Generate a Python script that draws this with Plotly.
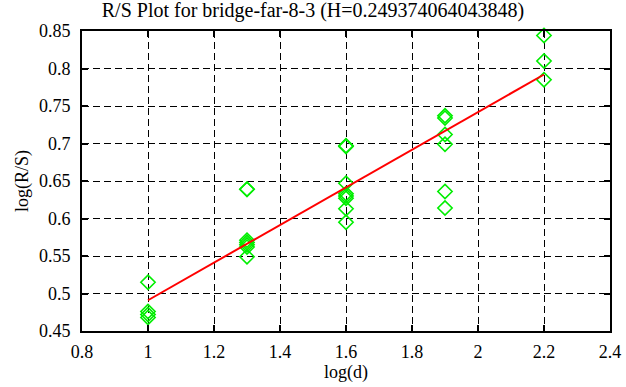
import plotly.graph_objects as go

x_d1 = [1, 1, 1, 1]
y_d1 = [0.515, 0.476, 0.472, 0.468]
x_d2 = [1.3, 1.3, 1.3, 1.3, 1.3, 1.3, 1.3]
y_d2 = [0.639, 0.639, 0.571, 0.568, 0.565, 0.562, 0.549]
x_d3 = [1.6, 1.6, 1.6, 1.6, 1.6, 1.6, 1.6, 1.6]
y_d3 = [0.697, 0.696, 0.647, 0.633, 0.630, 0.627, 0.613, 0.595]
x_d4 = [1.9, 1.9, 1.9, 1.9, 1.9, 1.9]
y_d4 = [0.737, 0.734, 0.712, 0.699, 0.636, 0.614]
x_d5 = [2.2, 2.2, 2.2]
y_d5 = [0.844, 0.810, 0.785]

fit_x = [1.0, 2.2]
fit_y = [0.491, 0.792]

x_ticks = [0.8, 1, 1.2, 1.4, 1.6, 1.8, 2, 2.2, 2.4]
x_tick_labels = ["0.8", "1", "1.2", "1.4", "1.6", "1.8", "2", "2.2", "2.4"]
y_ticks = [0.45, 0.5, 0.55, 0.6, 0.65, 0.7, 0.75, 0.8, 0.85]
y_tick_labels = ["0.45", "0.5", "0.55", "0.6", "0.65", "0.7", "0.75", "0.8", "0.85"]

title = "R/S Plot for bridge-far-8-3 (H=0.249374064043848)"

xs = x_d1 + x_d2 + x_d3 + x_d4 + x_d5
ys = y_d1 + y_d2 + y_d3 + y_d4 + y_d5

font = "Liberation Serif"
fig = go.Figure()
fig.add_trace(go.Scatter(
    x=xs, y=ys, mode="markers",
    marker=dict(symbol="diamond-open", size=11, color="#00ee00",
                line=dict(width=1.6, color="#00ee00")),
    showlegend=False, hoverinfo="skip", cliponaxis=False))
fig.add_trace(go.Scatter(
    x=fit_x, y=fit_y, mode="lines",
    line=dict(color="#ff0000", width=2), showlegend=False, hoverinfo="skip"))

axis_common = dict(
    showline=True, linecolor="black", linewidth=2, mirror="ticks",
    ticks="inside", ticklen=6, tickwidth=1.5, tickcolor="black",
    showgrid=True, gridcolor="black", gridwidth=1, griddash="7px,4px",
    zeroline=False, tickfont=dict(family=font, size=18, color="black"),
    automargin=False,
)
fig.update_xaxes(range=[0.8, 2.4], tickvals=x_ticks, ticktext=x_tick_labels,
                 ticklabelstandoff=3,
                 title=dict(text="log(d)", font=dict(family=font, size=18, color="black"), standoff=1),
                 **axis_common)
fig.update_yaxes(range=[0.45, 0.85], tickvals=y_ticks, ticktext=y_tick_labels,
                 ticklabelstandoff=6,
                 title=dict(text="log(R/S)", font=dict(family=font, size=18, color="black"), standoff=6),
                 **axis_common)
fig.update_layout(
    width=626, height=387,
    margin=dict(l=82, r=16, t=31, b=56),
    paper_bgcolor="white", plot_bgcolor="white",
    title=dict(text=title, x=0.5, xanchor="center", y=1 - 10 / 387, yanchor="middle",
               font=dict(family=font, size=20, color="black")),
    font=dict(family=font, color="black"),
)
fig.write_html("out.html", config={"displayModeBar": False},
               post_script="document.body.style.margin='0';document.body.style.overflow='hidden';")
